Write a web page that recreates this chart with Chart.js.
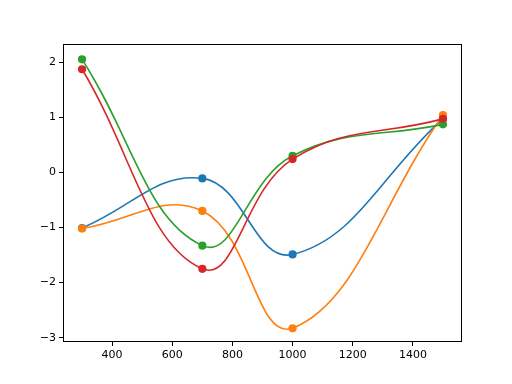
<!DOCTYPE html>
<html>
<head>
<meta charset="utf-8">
<script src="https://cdn.jsdelivr.net/npm/chart.js@4"></script>
<style>
html,body{margin:0;padding:0;background:#fff;}
#wrap{width:512px;height:384px;}
</style>
</head>
<body>
<div id="wrap"><canvas id="c" width="512" height="384"></canvas></div>
<script>
const xValues = [300, 700, 1000, 1500];
const blueValues = [-1.01, -0.11, -1.49, 0.975];
const orangeValues = [-1.02, -0.70, -2.83, 1.04];
const greenValues = [2.05, -1.33, 0.30, 0.87];
const redValues = [1.87, -1.75, 0.24, 0.97];
const xTicks = [400, 600, 800, 1000, 1200, 1400];
const yTicks = [-3, -2, -1, 0, 1, 2];

const series = [
  {vals: blueValues, color: '#1f77b4'},
  {vals: orangeValues, color: '#ff7f0e'},
  {vals: greenValues, color: '#2ca02c'},
  {vals: redValues, color: '#d62728'}
];

const frame = {
  id: 'frame',
  afterDraw(chart) {
    const a = chart.chartArea, ctx = chart.ctx;
    ctx.save();
    ctx.strokeStyle = '#000';
    ctx.lineWidth = 1;
    ctx.strokeRect(Math.round(a.left) - 0.5, Math.round(a.top) - 0.5, Math.round(a.right - a.left) + 1, Math.round(a.bottom - a.top) + 1);
    ctx.restore();
  }
};

new Chart(document.getElementById('c'), {
  type: 'line',
  data: {
    datasets: series.map((s, i) => ({
      data: xValues.map((x, j) => ({x: x, y: s.vals[j]})),
      order: series.length - i,
      borderColor: s.color,
      backgroundColor: s.color,
      pointBackgroundColor: s.color,
      pointBorderColor: s.color,
      pointRadius: 3.3,
      borderWidth: 1.6,
      tension: 0.42,
      fill: false
    }))
  },
  options: {
    responsive: false,
    animation: false,
    devicePixelRatio: 1,
    layout: {padding: {left: 0, top: 45, right: 51, bottom: 0}},
    plugins: {legend: {display: false}, tooltip: {enabled: false}},
    scales: {
      x: {
        type: 'linear',
        min: 240, max: 1560,
        afterBuildTicks: (s) => { s.ticks = xTicks.map(v => ({value: v})); },
        afterFit: (s) => { s.height = 43; },
        grid: {display: true, drawOnChartArea: false, tickLength: 5, tickColor: '#000'},
        border: {display: false},
        ticks: {color: '#000', padding: 3, maxRotation: 0, font: {family: 'DejaVu Sans', size: 11},
          callback: (v) => String(v)}
      },
      y: {
        type: 'linear',
        min: -3.06, max: 2.31,
        afterBuildTicks: (s) => { s.ticks = yTicks.map(v => ({value: v})); },
        afterFit: (s) => { s.width = 64; },
        grid: {display: true, drawOnChartArea: false, tickLength: 5, tickColor: '#000'},
        border: {display: false},
        ticks: {color: '#000', padding: 3, font: {family: 'DejaVu Sans', size: 11},
          callback: (v) => String(v).replace('-', '\u2212')}
      }
    }
  },
  plugins: [frame]
});
</script>
</body>
</html>
